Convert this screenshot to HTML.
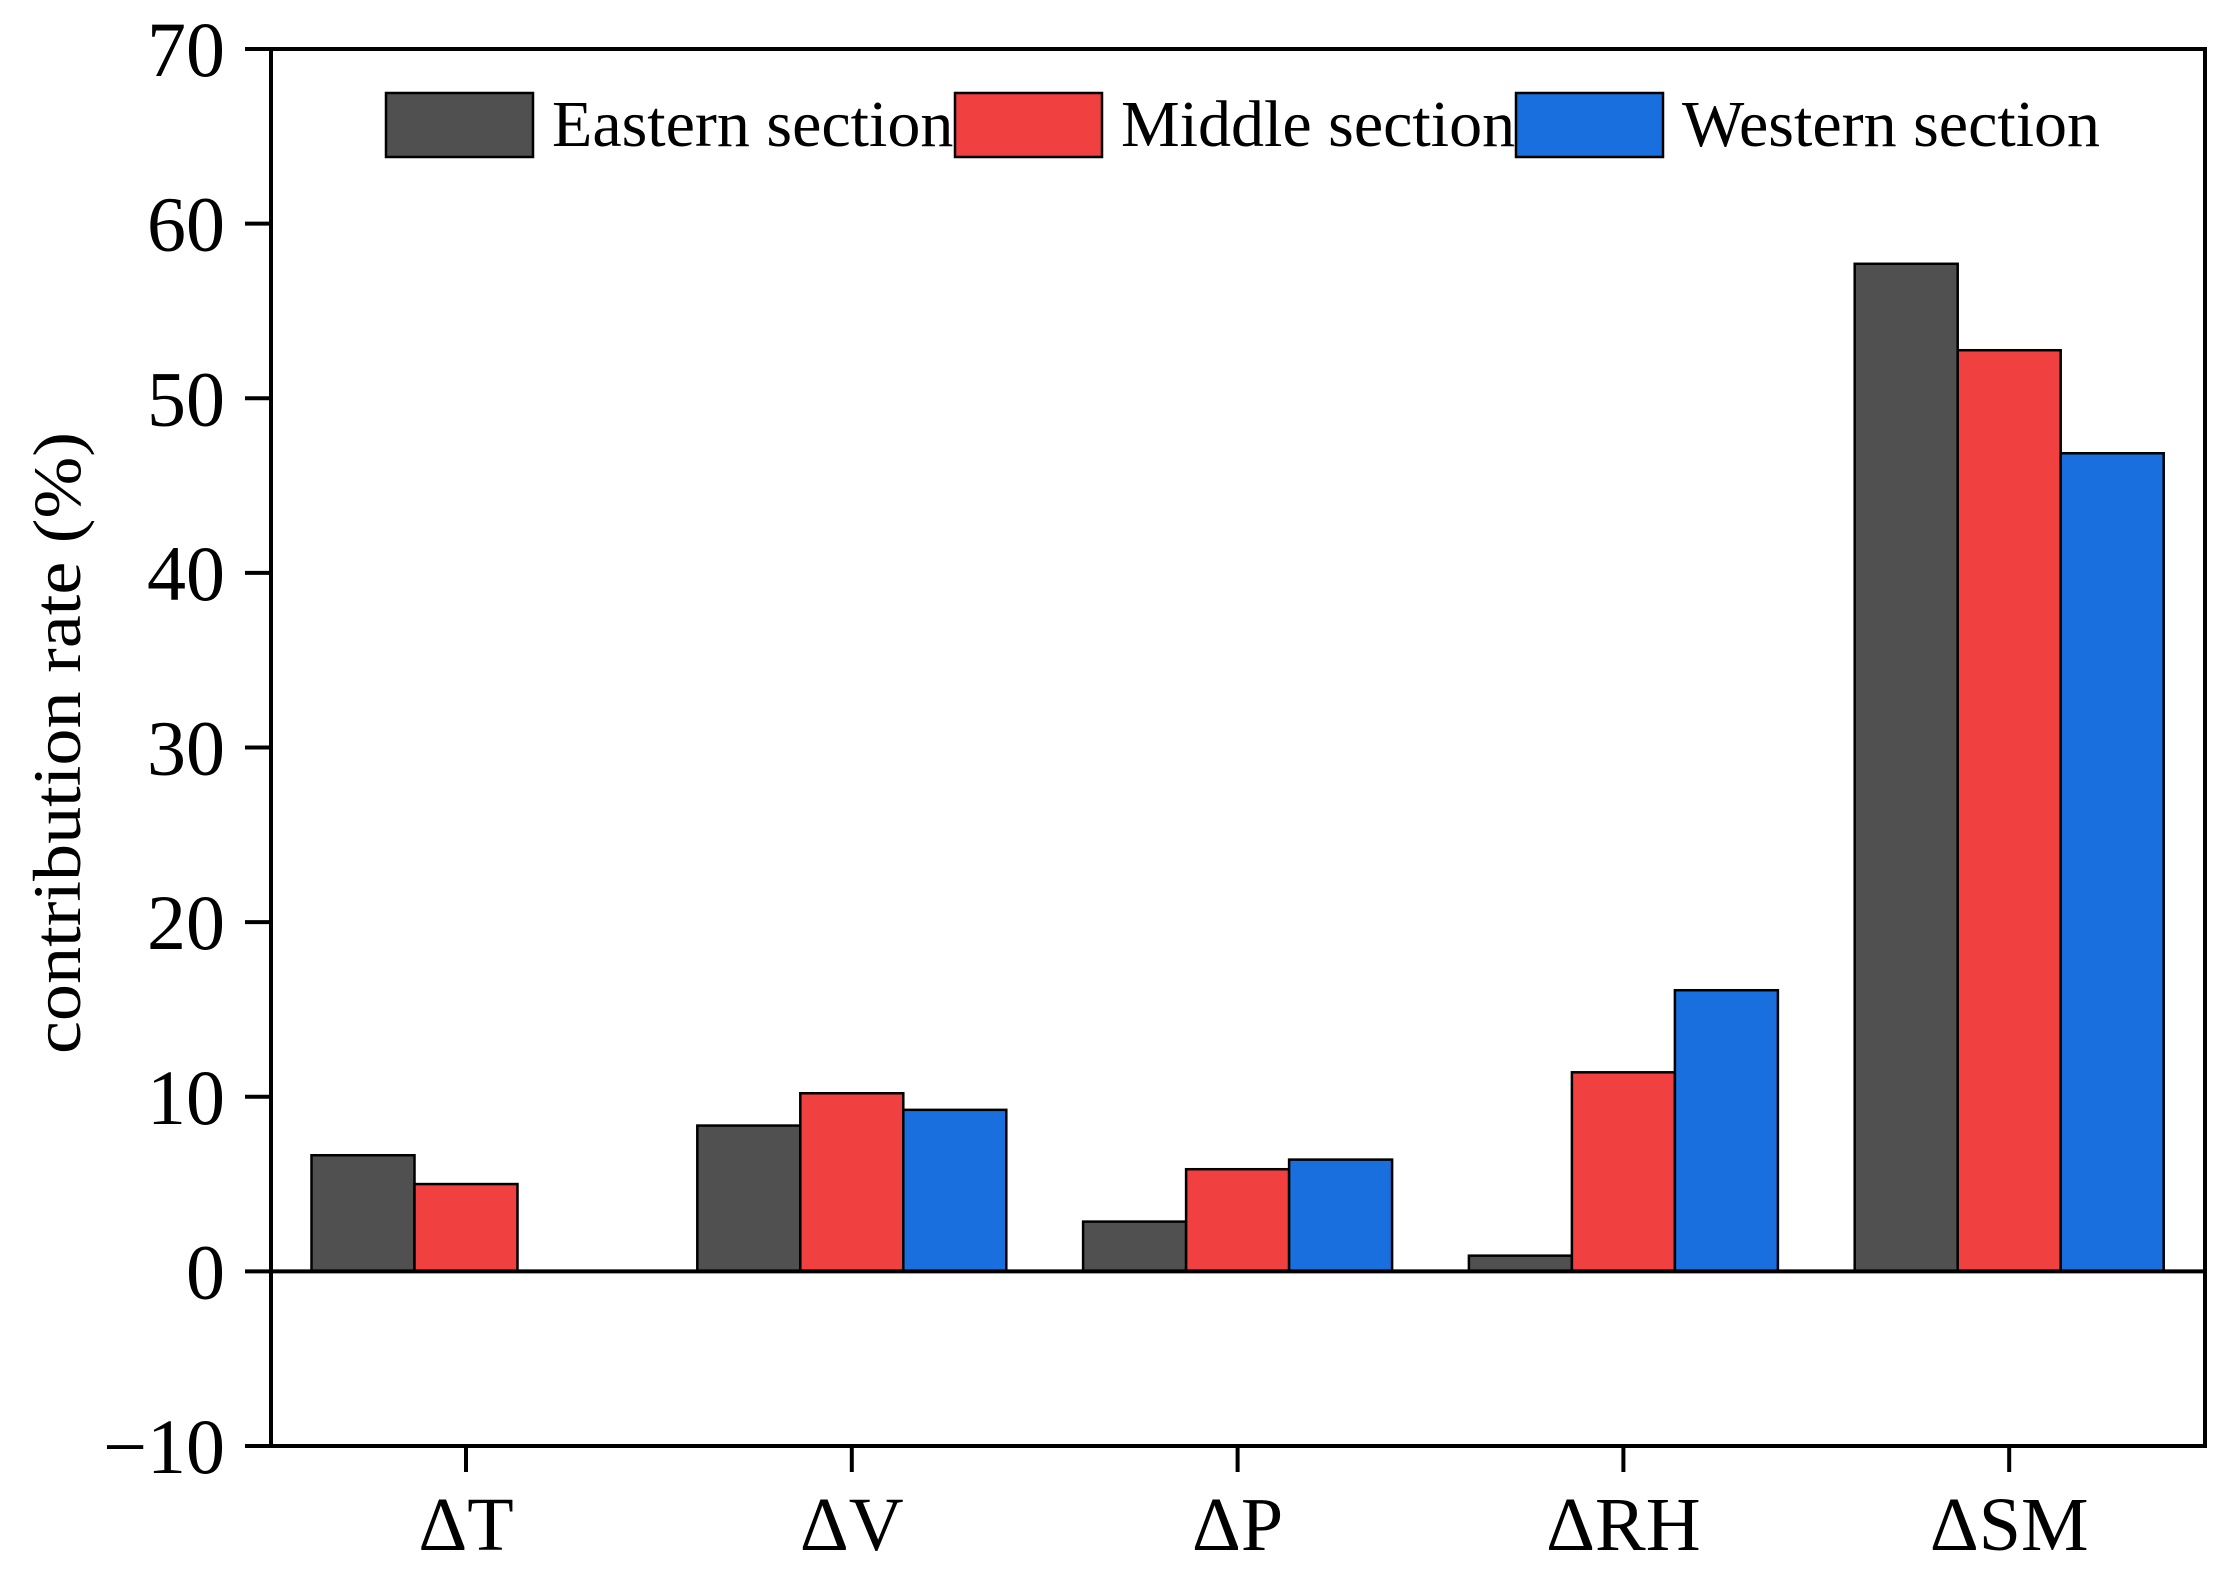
<!DOCTYPE html>
<html><head><meta charset="utf-8"><style>body{margin:0;background:#fff}svg{display:block}text{font-family:"Liberation Serif",serif;fill:#000}</style></head>
<body>
<svg id="chart" width="2216" height="1573" xmlns="http://www.w3.org/2000/svg"></svg>
<script>
const categories = ["ΔT","ΔV","ΔP","ΔRH","ΔSM"];
const seriesNames = ["Eastern section","Middle section","Western section"];
const eastern = [6.65, 8.35, 2.85, 0.9, 57.7];
const middle = [5.0, 10.2, 5.85, 11.4, 52.75];
const western = [0, 9.25, 6.4, 16.1, 46.85];
const yTicks = [70,60,50,40,30,20,10,0,-10];
const colors = ["#505050","#f04040","#1a6fdf"];
const series=[eastern,middle,western];
const NS="http://www.w3.org/2000/svg";
const svg=document.getElementById('chart');
const L=271,R=2205,T=49,B=1446,yMin=-10,yMax=70;
const y=v=>B-(v-yMin)/(yMax-yMin)*(B-T);
const x0=466,step=385.8,bw=103;
const xc=i=>x0+i*step;
function mk(tag,attrs,parent){const e=document.createElementNS(NS,tag);for(const k in attrs)e.setAttribute(k,attrs[k]);(parent||svg).appendChild(e);return e;}
series.forEach((s,si)=>{s.forEach((v,i)=>{
 if(v===0)return;
 const bx=xc(i)+(si-1)*bw-bw/2;
 const r=mk('rect',{x:bx,y:Math.min(y(v),y(0)),width:bw,height:Math.abs(y(v)-y(0)),fill:colors[si],stroke:'#000','stroke-width':2.5});
 
 
});});
const z=mk('line',{x1:L,x2:R,y1:y(0),y2:y(0),stroke:'#000','stroke-width':4});

const f=mk('rect',{x:L,y:T,width:R-L,height:B-T,fill:'none',stroke:'#000','stroke-width':4});

yTicks.forEach(t=>{
 const tk=mk('line',{x1:L-26,x2:L,y1:y(t),y2:y(t),stroke:'#000','stroke-width':4});
 
 const tx=mk('text',{x:225,y:y(t)+27,'text-anchor':'end','font-size':78});
 tx.textContent=t<0?'\u2212'+(-t):String(t);
 
});
categories.forEach((c,i)=>{
 const tk=mk('line',{x1:xc(i),x2:xc(i),y1:B,y2:B+26,stroke:'#000','stroke-width':4});
 
 const tx=mk('text',{x:xc(i),y:1550,'text-anchor':'middle','font-size':76});
 tx.textContent=c;
 
});
const yt=mk('text',{x:0,y:0,'text-anchor':'middle','font-size':68,transform:'translate(80,743) rotate(-90)',textLength:622,lengthAdjust:'spacingAndGlyphs'});
yt.textContent='contribution rate  (%)';

const lx=[386,955,1516];
seriesNames.forEach((n,i)=>{
 const r=mk('rect',{x:lx[i],y:93,width:147,height:64,fill:colors[i],stroke:'#000','stroke-width':2.5});
 
 const t=mk('text',{x:lx[i]+166,y:146,'font-size':66});
 t.textContent=n;
 
});
</script>
</body></html>
